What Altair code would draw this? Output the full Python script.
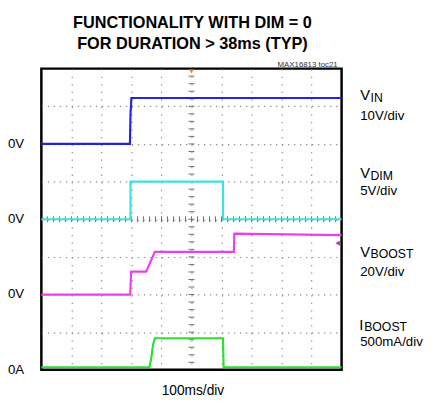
import altair as alt
import pandas as pd

# ---------------- data ----------------
series = ["VIN", "VDIM", "VBOOST", "IBOOST"]
vin_t = [0, 295, 297, 300, 1000]                 # ms
vin_v = [0.0, 0.0, 8.0, 12.2, 12.2]              # V
vdim_t = [0, 297, 297, 605, 605, 1000]
vdim_v = [0, 0, 5, 5, 0, 0]                      # V
vboost_t = [0, 296, 299, 349, 378, 641, 643, 1000]
vboost_v = [0, 0, 12.2, 12.2, 22.7, 22.7, 32.4, 31.6]   # V
iboost_t = [0, 360, 366, 372, 378, 605, 607, 1000]
iboost_v = [0, 0, 120, 300, 385, 385, 0, 0]      # mA

per_div = [10, 5, 20, 500]          # units per division
zero_div = [6, 4, 2, 0.07]          # zero level (divisions from bottom)
colors = ["#2424d8", "#38e2e6", "#f03cf0", "#2ee02e"]

zero_labels = ["0V", "0V", "0V", "0A"]
zero_label_div = [6, 4, 2, 0]
ch_main = ["V", "V", "V", "I"]
ch_sub = ["IN", "DIM", "BOOST", "BOOST"]
ch_scale = ["10V/div", "5V/div", "20V/div", "500mA/div"]
title_lines = ["FUNCTIONALITY WITH DIM = 0", "FOR DURATION > 38ms (TYP)"]
time_label = "100ms/div"
note = "MAX16813 toc21"

x_major = [100, 200, 300, 400, 500, 600, 700, 800, 900]
y_major = [1, 2, 3, 4, 5, 6, 7]
x_minor = [k * 20 for k in range(1, 50)]
y_minor = [round(k * 0.2, 2) for k in range(1, 40)]

rows = []
i = 0
for s, ts, vs, pdv, z in zip(series,
                             [vin_t, vdim_t, vboost_t, iboost_t],
                             [vin_v, vdim_v, vboost_v, iboost_v],
                             per_div, zero_div):
    for t, v in zip(ts, vs):
        rows.append({"series": s, "t": t, "y": z + v / pdv, "i": i})
        i += 1
df = pd.DataFrame(rows)

W, H = 306, 307
FONT = "Liberation Sans, Arial"

xs = alt.Scale(domain=[0, 1000], nice=False, zero=False)
ys = alt.Scale(domain=[0, 8], nice=False, zero=False)
x_axis = alt.Axis(orient="bottom", values=x_major, grid=True, gridDash=[1.3, 6.38],
                  gridColor="#8c8c8c", gridWidth=1.2, ticks=False, labels=False,
                  domain=False, title=None)
y_axis = alt.Axis(orient="left", values=y_major, grid=True, gridDash=[1.3, 4.82],
                  gridColor="#8c8c8c", gridWidth=1.2, ticks=False, labels=False,
                  domain=False, title=None)

lines = alt.Chart(df).mark_line(strokeWidth=2.2).encode(
    x=alt.X("t:Q", scale=xs, axis=x_axis),
    y=alt.Y("y:Q", scale=ys, axis=y_axis),
    color=alt.Color("series:N", scale=alt.Scale(domain=series, range=colors), legend=None),
    order=alt.Order("i:Q"),
)

# minor ticks along the centre cross-hair
tick_x = alt.Chart(pd.DataFrame({"t": x_minor})).mark_rule(
    strokeWidth=1, color="#6e6e6e").encode(
    x=alt.X("t:Q", scale=xs, axis=x_axis),
    y=alt.value(H / 2 - 3), y2=alt.value(H / 2 + 3))
tick_y = alt.Chart(pd.DataFrame({"y": y_minor})).mark_rule(
    strokeWidth=1, color="#6e6e6e").encode(
    y=alt.Y("y:Q", scale=ys, axis=y_axis),
    x=alt.value(W / 2 - 3), x2=alt.value(W / 2 + 3))

one = alt.Data(values=[{}])


def txt(s, x, y, size, bold=False, align="left", color="black"):
    return alt.Chart(one).mark_text(
        text=s, align=align, baseline="alphabetic", fontSize=size, font=FONT,
        fontWeight="bold" if bold else "normal", color=color
    ).encode(x=alt.value(x), y=alt.value(y))


layers = [tick_x, tick_y, lines]

# zero-level labels on the left
zl = pd.DataFrame({"lab": zero_labels, "y": zero_label_div})
layers.append(alt.Chart(zl).mark_text(align="left", baseline="middle", fontSize=13.5,
                                      font=FONT, color="black").encode(
    x=alt.value(-34), y=alt.Y("y:Q", scale=ys, axis=y_axis), text="lab:N"))

# channel labels on the right
main_pos = [(325, 32), (325, 111), (325, 192), (324, 266)]
sub_pos = [(335.5, 34), (335.5, 113), (335.5, 193.5), (329, 267.5)]
scale_pos = [(325, 52), (325, 129), (325, 211), (325, 283)]
for k in range(4):
    layers.append(txt(ch_main[k], main_pos[k][0], main_pos[k][1], 15))
    layers.append(txt(ch_sub[k], sub_pos[k][0], sub_pos[k][1], 12.5))
    layers.append(txt(ch_scale[k], scale_pos[k][0], scale_pos[k][1], 13.5))

layers.append(txt(title_lines[0], 154, -41, 16.6, bold=True, align="center"))
layers.append(txt(title_lines[1], 154, -20, 16.6, bold=True, align="center"))
layers.append(txt(note, 302, -2, 8, align="right", color="#333333"))
layers.append(txt(time_label, 154.5, 333, 14, align="center"))

# scope markers
layers.append(alt.Chart(one).mark_point(shape="triangle-down", filled=True, size=22,
                                        color="#f08020", opacity=1).encode(
    x=alt.value(153), y=alt.value(3)))
layers.append(alt.Chart(one).mark_point(shape="triangle-left", filled=True, size=26,
                                        color="#c020c0", opacity=1).encode(
    x=alt.value(302), y=alt.value(178)))

chart = alt.layer(*layers).properties(
    width=W, height=H, autosize="none",
    padding={"left": 34, "top": 58, "right": 84, "bottom": 31},
    background="white",
).configure_view(stroke="black", strokeWidth=2.5)

chart.save("out.html", embed_options={"renderer": "svg", "actions": False})
